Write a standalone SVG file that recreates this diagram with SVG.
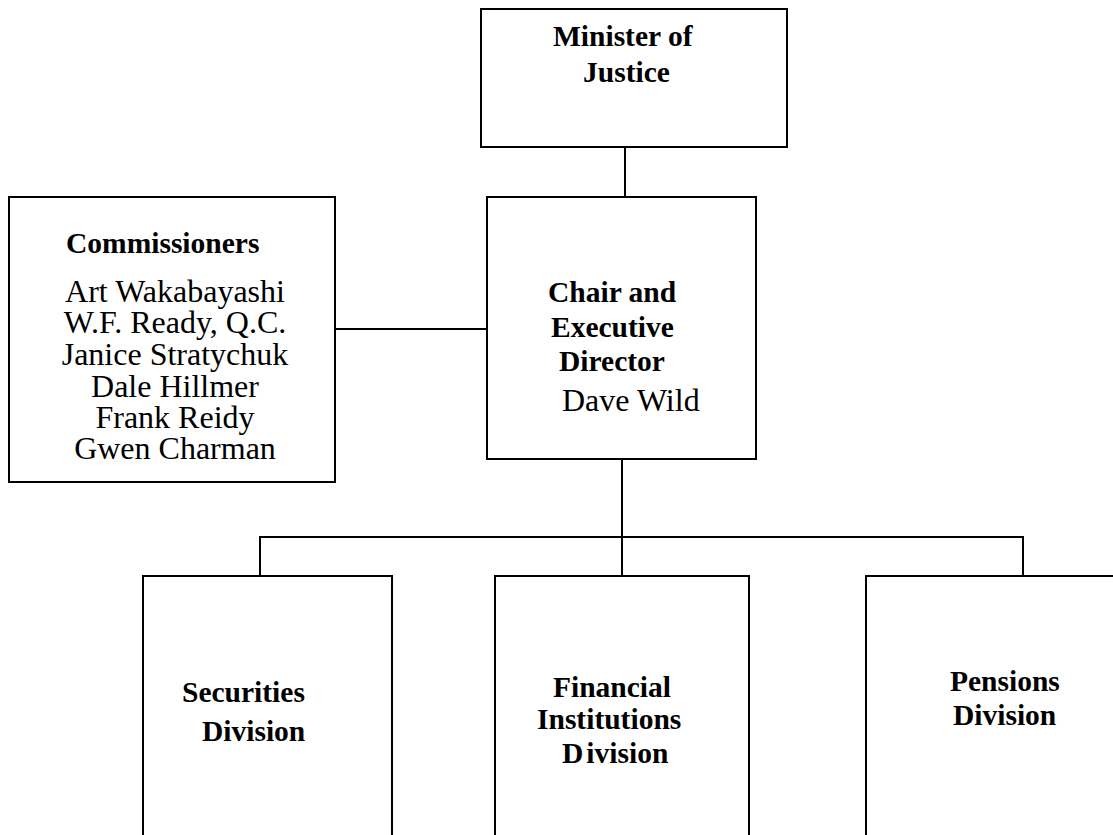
<svg xmlns="http://www.w3.org/2000/svg" width="1113" height="835" viewBox="0 0 1113 835">
<style>
.box{fill:#fff;stroke:#000;stroke-width:2}
.ln{fill:none;stroke:#000;stroke-width:2}
.b{font-family:"Liberation Serif","Times New Roman",serif;font-weight:bold;font-size:29.5px;fill:#000}
.r{font-family:"Liberation Serif","Times New Roman",serif;font-size:32px;fill:#000}
</style>
<rect width="1113" height="835" fill="#fff"/>
<g id="connectors">
<line class="ln" x1="625" y1="147" x2="625" y2="197"/>
<line class="ln" x1="335" y1="329" x2="487" y2="329"/>
<line class="ln" x1="622" y1="459" x2="622" y2="576"/>
<polyline class="ln" points="260,576 260,537 1023,537 1023,576"/>
</g>
<g id="minister">
<rect class="box" x="481" y="9" width="306" height="138"/>
<text class="b" x="553" y="46">Minister of</text>
<text class="b" x="583" y="82">Justice</text>
</g>
<g id="commissioners">
<rect class="box" x="9" y="197" width="326" height="285"/>
<text class="b" x="66" y="253">Commissioners</text>
<g class="r" text-anchor="middle">
<text x="175" y="302">Art Wakabayashi</text>
<text x="175" y="333">W.F. Ready, Q.C.</text>
<text x="175" y="365">Janice Stratychuk</text>
<text x="175" y="397">Dale Hillmer</text>
<text x="175" y="428">Frank Reidy</text>
<text x="175" y="459">Gwen Charman</text>
</g>
</g>
<g id="chair">
<rect class="box" x="487" y="197" width="269" height="262"/>
<text class="b" x="548" y="302">Chair and</text>
<text class="b" x="551" y="337">Executive</text>
<text class="b" x="559" y="371">Director</text>
<text class="r" x="562" y="411">Dave Wild</text>
</g>
<g id="securities">
<rect class="box" x="143" y="576" width="249" height="280"/>
<text class="b" x="182" y="702">Securities</text>
<text class="b" x="202" y="741">Division</text>
</g>
<g id="financial">
<rect class="box" x="495" y="576" width="254" height="280"/>
<text class="b" x="553" y="697">Financial</text>
<text class="b" x="537" y="729">Institutions</text>
<text class="b" x="562" y="763">D<tspan dx="3">ivision</tspan></text>
</g>
<g id="pensions">
<rect class="box" x="866" y="576" width="270" height="280"/>
<text class="b" x="950" y="691">Pensions</text>
<text class="b" x="953" y="725">Division</text>
</g>
</svg>
